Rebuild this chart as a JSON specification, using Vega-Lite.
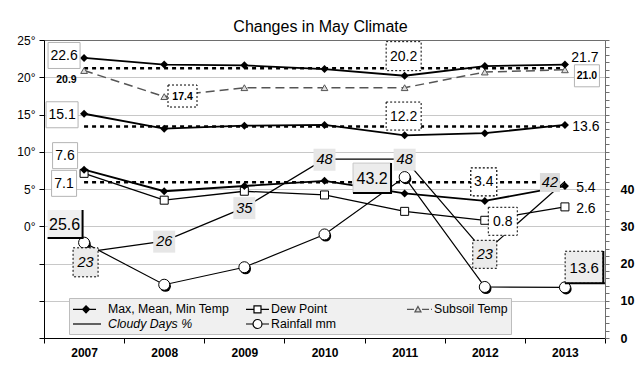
{
  "$schema": "https://vega.github.io/schema/vega-lite/v6.json",
  "width": 561,
  "height": 298,
  "autosize": {"type": "none"},
  "padding": {"left": 44, "top": 40, "right": 35, "bottom": 38},
  "background": "white",
  "title": {"text": "Changes in May Climate", "fontSize": 16, "fontWeight": "normal", "font": "Liberation Sans", "color": "black", "anchor": "middle", "offset": -14, "baseline": "alphabetic", "dx": -4},
  "config": {
    "font": "Liberation Sans",
    "view": {"stroke": "#6e6e6e", "strokeWidth": 1},
    "text": {"font": "Liberation Sans", "color": "black", "baseline": "middle", "align": "center"},
    "axis": {"labelFont": "Liberation Sans", "labelColor": "black", "title": null}
  },
  "datasets": {
    "temps": [
      {"year": "2007", "series": "Max", "value": 22.6},
      {"year": "2008", "series": "Max", "value": 21.7},
      {"year": "2009", "series": "Max", "value": 21.6},
      {"year": "2010", "series": "Max", "value": 21.1},
      {"year": "2011", "series": "Max", "value": 20.2},
      {"year": "2012", "series": "Max", "value": 21.5},
      {"year": "2013", "series": "Max", "value": 21.7},
      {"year": "2007", "series": "Mean", "value": 15.1},
      {"year": "2008", "series": "Mean", "value": 13.1},
      {"year": "2009", "series": "Mean", "value": 13.5},
      {"year": "2010", "series": "Mean", "value": 13.6},
      {"year": "2011", "series": "Mean", "value": 12.2},
      {"year": "2012", "series": "Mean", "value": 12.5},
      {"year": "2013", "series": "Mean", "value": 13.6},
      {"year": "2007", "series": "Min", "value": 7.6},
      {"year": "2008", "series": "Min", "value": 4.7},
      {"year": "2009", "series": "Min", "value": 5.4},
      {"year": "2010", "series": "Min", "value": 6.1},
      {"year": "2011", "series": "Min", "value": 4.4},
      {"year": "2012", "series": "Min", "value": 3.4},
      {"year": "2013", "series": "Min", "value": 5.4},
      {"year": "2007", "series": "Dew", "value": 7.1},
      {"year": "2008", "series": "Dew", "value": 3.5},
      {"year": "2009", "series": "Dew", "value": 4.7},
      {"year": "2010", "series": "Dew", "value": 4.2},
      {"year": "2011", "series": "Dew", "value": 2.0},
      {"year": "2012", "series": "Dew", "value": 0.8},
      {"year": "2013", "series": "Dew", "value": 2.6},
      {"year": "2007", "series": "Subsoil", "value": 20.9},
      {"year": "2008", "series": "Subsoil", "value": 17.4},
      {"year": "2009", "series": "Subsoil", "value": 18.6},
      {"year": "2010", "series": "Subsoil", "value": 18.6},
      {"year": "2011", "series": "Subsoil", "value": 18.6},
      {"year": "2012", "series": "Subsoil", "value": 20.7},
      {"year": "2013", "series": "Subsoil", "value": 21.0}
    ],
    "right": [
      {"year": "2007", "series": "Cloudy", "value": 23},
      {"year": "2008", "series": "Cloudy", "value": 26},
      {"year": "2009", "series": "Cloudy", "value": 35},
      {"year": "2010", "series": "Cloudy", "value": 48},
      {"year": "2011", "series": "Cloudy", "value": 48},
      {"year": "2012", "series": "Cloudy", "value": 23},
      {"year": "2013", "series": "Cloudy", "value": 42},
      {"year": "2007", "series": "Rain", "value": 25.6},
      {"year": "2008", "series": "Rain", "value": 14.3},
      {"year": "2009", "series": "Rain", "value": 19.0},
      {"year": "2010", "series": "Rain", "value": 27.8},
      {"year": "2011", "series": "Rain", "value": 43.2},
      {"year": "2012", "series": "Rain", "value": 13.7},
      {"year": "2013", "series": "Rain", "value": 13.6}
    ],
    "avgs": [
      {"year": "2007", "to": "2013", "series": "Max", "value": 21.2},
      {"year": "2007", "to": "2013", "series": "Mean", "value": 13.4},
      {"year": "2007", "to": "2013", "series": "Min", "value": 5.9}
    ]
  },
  "encoding": {
    "x": {
      "field": "year", "type": "ordinal",
      "scale": {"type": "band", "domain": ["2007", "2008", "2009", "2010", "2011", "2012", "2013"], "paddingInner": 0, "paddingOuter": 0},
      "axis": {"tickBand": "extent", "labelAngle": 0, "labelFontWeight": "bold", "labelFontSize": 12, "labelPadding": 4, "tickSize": 5, "tickColor": "black", "domainColor": "black", "grid": false, "title": null}
    }
  },
  "layer": [
    {
      "encoding": {
        "y": {"field": "value", "type": "quantitative", "scale": {"domain": [-15, 25], "nice": false, "zero": false},
          "axis": {"orient": "left", "title": null, "values": [-15, -10, -5, 0, 5, 10, 15, 20, 25], "labelExpr": "datum.value >= 0 ? datum.value + '°' : ''", "grid": true, "gridColor": "#c8c8c8", "gridOpacity": {"condition": {"test": "datum.value == -15 || datum.value == 25", "value": 0}, "value": 1}, "domainColor": "black", "tickColor": "black", "tickSize": 5, "labelPadding": 4, "labelFontSize": 12}}
      },
      "layer": [
        {"data": {"name": "avgs"}, "mark": {"type": "rule", "color": "black", "strokeWidth": 2.5, "strokeDash": [4, 4]}, "encoding": {"x2": {"field": "to"}}},
        {"data": {"name": "temps"}, "transform": [{"filter": "datum.series == 'Subsoil'"}], "mark": {"type": "line", "color": "#555555", "strokeWidth": 1.5, "strokeDash": [9, 5]}},
        {"data": {"name": "temps"}, "transform": [{"filter": "datum.series == 'Subsoil'"}], "mark": {"type": "point", "shape": "triangle-up", "size": 45, "filled": true, "fill": "#dddddd", "stroke": "#555555", "strokeWidth": 1, "opacity": 1}},
        {"data": {"name": "temps"}, "transform": [{"filter": "datum.series == 'Dew'"}], "mark": {"type": "line", "color": "black", "strokeWidth": 1.3}},
        {"data": {"name": "temps"}, "transform": [{"filter": "datum.series == 'Dew'"}], "mark": {"type": "point", "shape": "square", "size": 64, "filled": true, "fill": "white", "stroke": "black", "strokeWidth": 1, "opacity": 1}},
        {"data": {"name": "temps"}, "transform": [{"filter": "indexof(['Max','Mean','Min'], datum.series) >= 0"}], "mark": {"type": "line", "color": "black", "strokeWidth": 1.8}, "encoding": {"detail": {"field": "series"}}},
        {"data": {"name": "temps"}, "transform": [{"filter": "indexof(['Max','Mean','Min'], datum.series) >= 0"}], "mark": {"type": "point", "shape": "diamond", "size": 64, "filled": true, "color": "black", "opacity": 1}},
        {"data": {"name": "temps"}, "transform": [{"filter": "false"}], "mark": {"type": "point", "opacity": 1, "strokeWidth": 1.2},
          "encoding": {
            "shape": {"field": "series", "type": "nominal",
              "scale": {"domain": ["Max, Mean, Min Temp", "Dew Point", "Subsoil Temp", "Cloudy Days %", "Rainfall mm"],
                "range": ["M-1,0H2.29M0.36,0L0.86,-0.5L1.36,0L0.86,0.5Z", "M0.43,0H1.57M2.57,0H3.71M1.57,-0.5H2.57V0.5H1.57Z", "M0.14,0H1.14M2.29,0H3.29M3.57,0H3.71M1.28,0.36L1.71,-0.4L2.14,0.36Z", "M-1,0H3", "M0.43,0H1.43M2.71,0H3.71M1.43,0A0.64,0.64,0,1,0,2.71,0A0.64,0.64,0,1,0,1.43,0Z"]},
              "legend": {"title": null, "orient": "none", "legendX": 25, "legendY": 258, "direction": "horizontal", "columns": 3, "gridAlign": "all", "columnPadding": 6, "rowPadding": 0, "padding": 3, "fillColor": "#f0f0f0", "strokeColor": "#bdbdbd", "symbolSize": 196, "symbolStrokeWidth": 1.2, "symbolOpacity": 1, "labelOffset": 20, "labelFontSize": 12.3, "labelFont": "Liberation Sans", "labelColor": "black", "labelLimit": 300,
                "labelExpr": "datum.label == 'Subsoil Temp' ? 'Subsoil Temp\u00a0\u00a0\u00a0\u00a0\u00a0\u00a0\u00a0\u00a0\u00a0\u00a0\u00a0\u00a0' : datum.label",
                "labelFontStyle": {"expr": "datum.value == 'Cloudy Days %' ? 'italic' : 'normal'"}}},
            "fill": {"field": "series", "type": "nominal",
              "scale": {"domain": ["Max, Mean, Min Temp", "Dew Point", "Subsoil Temp", "Cloudy Days %", "Rainfall mm"],
                "range": ["black", "white", "#dddddd", "transparent", "white"]}},
            "stroke": {"field": "series", "type": "nominal",
              "scale": {"domain": ["Max, Mean, Min Temp", "Dew Point", "Subsoil Temp", "Cloudy Days %", "Rainfall mm"],
                "range": ["black", "black", "#555555", "black", "black"]}}
          }}
      ]
    },
    {
      "data": {"name": "right"},
      "encoding": {
        "y": {"field": "value", "type": "quantitative", "scale": {"domain": [0, 80], "nice": false, "zero": false},
          "axis": {"orient": "right", "title": null, "values": [0, 2, 4, 6, 8, 10, 12, 14, 16, 18, 20, 22, 24, 26, 28, 30, 32, 34, 36, 38, 40, 42, 44, 46, 48, 50, 52, 54, 56, 58, 60, 62, 64, 66, 68, 70, 72, 74, 76, 78, 80], "labelExpr": "datum.value % 10 == 0 && datum.value <= 40 ? datum.label : ''", "grid": false, "domainColor": "#6e6e6e", "tickColor": "#6e6e6e", "tickSize": 4, "labelPadding": 11, "labelFontSize": 12.5, "labelFontWeight": "bold"}}
      },
      "layer": [
        {"transform": [{"filter": "datum.series == 'Cloudy'"}], "mark": {"type": "line", "color": "black", "strokeWidth": 1.2}},
        {"transform": [{"filter": "datum.series == 'Rain'"}], "mark": {"type": "line", "color": "black", "strokeWidth": 1.2}},
        {"transform": [{"filter": "datum.series == 'Rain'"}], "mark": {"type": "point", "shape": "circle", "size": 121, "filled": true, "fill": "black", "opacity": 1, "xOffset": 1.2, "yOffset": 1.6}},
        {"transform": [{"filter": "datum.series == 'Rain'"}], "mark": {"type": "point", "shape": "circle", "size": 121, "filled": true, "fill": "white", "stroke": "black", "strokeWidth": 1, "opacity": 1}}
      ]
    },
    {
      "data": {"name": "temps"},
      "encoding": {"y": {"field": "value", "type": "quantitative", "scale": {"domain": [-15, 25], "nice": false, "zero": false}, "axis": null}},
      "layer": [
        {"transform": [{"filter": "datum.series == 'Max' && datum.year == '2007'"}], "layer": [
          {"mark": {"type": "point", "shape": "M-16,-13H16V13H-16Z", "size": 4, "filled": true, "fill": "white", "stroke": "#b4b4b4", "strokeWidth": 1, "opacity": 1, "xOffset": -20, "yOffset": -2.4}},
          {"mark": {"type": "text", "fontSize": 14, "dx": -20, "dy": -1.9}, "encoding": {"text": {"field": "value", "type": "quantitative", "format": ".1f"}}}
        ]},
        {"transform": [{"filter": "datum.series == 'Max' && datum.year == '2011'"}], "layer": [
          {"mark": {"type": "point", "shape": "M-17.5,-14.5H17.5V14.5H-17.5Z", "size": 4, "filled": true, "fill": "white", "stroke": "black", "strokeDash": [2, 2], "strokeWidth": 1, "opacity": 1, "xOffset": -1, "yOffset": -19.6}},
          {"mark": {"type": "text", "fontSize": 14, "dx": -1, "dy": -19}, "encoding": {"text": {"field": "value", "type": "quantitative", "format": ".1f"}}}
        ]},
        {"transform": [{"filter": "datum.series == 'Max' && datum.year == '2013'"}], "mark": {"type": "text", "fontSize": 14, "dx": 20, "dy": -7}, "encoding": {"text": {"field": "value", "type": "quantitative", "format": ".1f"}}},
        {"transform": [{"filter": "datum.year == '2013' && indexof(['Mean','Min','Dew'], datum.series) >= 0"}], "mark": {"type": "text", "fontSize": 14, "dx": 21, "dy": 2}, "encoding": {"text": {"field": "value", "type": "quantitative", "format": ".1f"}}},
        {"transform": [{"filter": "datum.series == 'Subsoil' && datum.year == '2007'"}], "mark": {"type": "text", "fontSize": 10.5, "fontWeight": "bold", "dx": -17.6, "dy": 9.5}, "encoding": {"text": {"field": "value", "type": "quantitative", "format": ".1f"}}},
        {"transform": [{"filter": "datum.series == 'Subsoil' && datum.year == '2008'"}], "layer": [
          {"mark": {"type": "point", "shape": "M-14.5,-11H14.5V11H-14.5Z", "size": 4, "filled": true, "fill": "white", "stroke": "black", "strokeDash": [2, 2], "strokeWidth": 1, "opacity": 1, "xOffset": 18.3, "yOffset": -0.6}},
          {"mark": {"type": "text", "fontSize": 10.5, "fontWeight": "bold", "dx": 18.3, "dy": 0}, "encoding": {"text": {"field": "value", "type": "quantitative", "format": ".1f"}}}
        ]},
        {"transform": [{"filter": "datum.series == 'Subsoil' && datum.year == '2013'"}], "layer": [
          {"mark": {"type": "point", "shape": "M-12.5,-11H12.5V11H-12.5Z", "size": 4, "filled": true, "fill": "white", "stroke": "#b4b4b4", "strokeWidth": 1, "opacity": 1, "xOffset": 22, "yOffset": 6}},
          {"mark": {"type": "text", "fontSize": 10.5, "fontWeight": "bold", "dx": 22, "dy": 6.5}, "encoding": {"text": {"field": "value", "type": "quantitative", "format": ".1f"}}}
        ]},
        {"transform": [{"filter": "datum.series == 'Mean' && datum.year == '2007'"}], "layer": [
          {"mark": {"type": "point", "shape": "M-16,-13H16V13H-16Z", "size": 4, "filled": true, "fill": "white", "stroke": "#b4b4b4", "strokeWidth": 1, "opacity": 1, "xOffset": -22, "yOffset": 1}},
          {"mark": {"type": "text", "fontSize": 14, "dx": -22, "dy": 1.5}, "encoding": {"text": {"field": "value", "type": "quantitative", "format": ".1f"}}}
        ]},
        {"transform": [{"filter": "datum.series == 'Mean' && datum.year == '2011'"}], "layer": [
          {"mark": {"type": "point", "shape": "M-17.5,-14H17.5V14H-17.5Z", "size": 4, "filled": true, "fill": "white", "stroke": "black", "strokeDash": [2, 2], "strokeWidth": 1, "opacity": 1, "xOffset": -1, "yOffset": -19.3}},
          {"mark": {"type": "text", "fontSize": 14, "dx": -1, "dy": -18.8}, "encoding": {"text": {"field": "value", "type": "quantitative", "format": ".1f"}}}
        ]},
        {"transform": [{"filter": "datum.series == 'Min' && datum.year == '2007'"}], "layer": [
          {"mark": {"type": "point", "shape": "M-12.5,-13H12.5V13H-12.5Z", "size": 4, "filled": true, "fill": "white", "stroke": "#b4b4b4", "strokeWidth": 1, "opacity": 1, "xOffset": -19, "yOffset": -14}},
          {"mark": {"type": "text", "fontSize": 14, "dx": -19, "dy": -13.5}, "encoding": {"text": {"field": "value", "type": "quantitative", "format": ".1f"}}}
        ]},
        {"transform": [{"filter": "datum.series == 'Min' && datum.year == '2012'"}], "layer": [
          {"mark": {"type": "point", "shape": "M-13,-14H13V14H-13Z", "size": 4, "filled": true, "fill": "white", "stroke": "black", "strokeDash": [2, 2], "strokeWidth": 1.2, "opacity": 1, "xOffset": -1, "yOffset": -19}},
          {"mark": {"type": "text", "fontSize": 14, "dx": -1, "dy": -18.5}, "encoding": {"text": {"field": "value", "type": "quantitative", "format": ".1f"}}}
        ]},
        {"transform": [{"filter": "datum.series == 'Dew' && datum.year == '2007'"}], "layer": [
          {"mark": {"type": "point", "shape": "M-12.5,-13H12.5V13H-12.5Z", "size": 4, "filled": true, "fill": "white", "stroke": "#b4b4b4", "strokeWidth": 1, "opacity": 1, "xOffset": -20, "yOffset": 10}},
          {"mark": {"type": "text", "fontSize": 14, "dx": -20, "dy": 10.5}, "encoding": {"text": {"field": "value", "type": "quantitative", "format": ".1f"}}}
        ]},
        {"transform": [{"filter": "datum.series == 'Dew' && datum.year == '2012'"}], "layer": [
          {"mark": {"type": "point", "shape": "M-14.5,-14H14.5V14H-14.5Z", "size": 4, "filled": true, "fill": "white", "stroke": "black", "strokeDash": [2, 2], "strokeWidth": 1, "opacity": 1, "xOffset": 18, "yOffset": 1}},
          {"mark": {"type": "text", "fontSize": 14, "dx": 18, "dy": 1.5}, "encoding": {"text": {"field": "value", "type": "quantitative", "format": ".1f"}}}
        ]}
      ]
    },
    {
      "data": {"name": "right"},
      "encoding": {"y": {"field": "value", "type": "quantitative", "scale": {"domain": [0, 80], "nice": false, "zero": false}, "axis": null}},
      "layer": [
        {"transform": [{"filter": "datum.series == 'Cloudy' && datum.year == '2007'"}], "layer": [
          {"mark": {"type": "point", "shape": "M-12.5,-14.5H12.5V14.5H-12.5Z", "size": 4, "filled": true, "fill": "#ebebeb", "stroke": "black", "strokeDash": [2, 2], "strokeWidth": 1, "opacity": 1, "xOffset": 1.5, "yOffset": 10}},
          {"mark": {"type": "text", "fontSize": 14.5, "fontStyle": "italic", "dx": 1.5, "dy": 10.5}, "encoding": {"text": {"field": "value", "type": "quantitative", "format": "d"}}}
        ]},
        {"transform": [{"filter": "datum.series == 'Cloudy' && indexof(['2008','2009','2010','2011'], datum.year) >= 0"}], "layer": [
          {"mark": {"type": "point", "shape": "M-11,-11H11V11H-11Z", "size": 4, "filled": true, "fill": "#e6e6e6", "opacity": 1, "yOffset": 0.5}},
          {"mark": {"type": "text", "fontSize": 14.5, "fontStyle": "italic", "dy": 1}, "encoding": {"text": {"field": "value", "type": "quantitative", "format": "d"}}}
        ]},
        {"transform": [{"filter": "datum.series == 'Cloudy' && datum.year == '2012'"}], "layer": [
          {"mark": {"type": "point", "shape": "M-12,-14H12V14H-12Z", "size": 4, "filled": true, "fill": "#ebebeb", "stroke": "black", "strokeDash": [2, 2], "strokeWidth": 1, "opacity": 1, "yOffset": 2}},
          {"mark": {"type": "text", "fontSize": 14.5, "fontStyle": "italic", "dy": 2.5}, "encoding": {"text": {"field": "value", "type": "quantitative", "format": "d"}}}
        ]},
        {"transform": [{"filter": "datum.series == 'Cloudy' && datum.year == '2013'"}], "layer": [
          {"mark": {"type": "point", "shape": "M-10,-9.5H10V9.5H-10Z", "size": 4, "filled": true, "fill": "#dcdcdc", "opacity": 1, "xOffset": -15, "yOffset": 1}},
          {"mark": {"type": "text", "fontSize": 14.5, "fontStyle": "italic", "dx": -15, "dy": 1.5}, "encoding": {"text": {"field": "value", "type": "quantitative", "format": "d"}}}
        ]},
        {"transform": [{"filter": "datum.series == 'Rain' && datum.year == '2007'"}], "layer": [
          {"mark": {"type": "point", "shape": "M-17.5,-14H17.5V14H-17.5Z", "size": 4, "filled": true, "fill": "#f0f0f0", "opacity": 1, "xOffset": -19, "yOffset": -18.6}},
          {"mark": {"type": "point", "shape": "M-36.5,-4.6H-1.5V-32.6", "size": 4, "filled": false, "stroke": "black", "strokeWidth": 2, "opacity": 1}},
          {"mark": {"type": "text", "fontSize": 16, "dx": -19.5, "dy": -18}, "encoding": {"text": {"field": "value", "type": "quantitative", "format": ".1f"}}}
        ]},
        {"transform": [{"filter": "datum.series == 'Rain' && datum.year == '2011'"}], "layer": [
          {"mark": {"type": "point", "shape": "M-19,-15H19V15H-19Z", "size": 4, "filled": true, "fill": "#ececec", "stroke": "#c8c8c8", "strokeWidth": 1, "opacity": 1, "xOffset": -32.6, "yOffset": 1}},
          {"mark": {"type": "point", "shape": "M-51.6,16H-13.6V-14", "size": 4, "filled": false, "stroke": "black", "strokeWidth": 2, "opacity": 1}},
          {"mark": {"type": "text", "fontSize": 16, "dx": -32.6, "dy": 1.5}, "encoding": {"text": {"field": "value", "type": "quantitative", "format": ".1f"}}}
        ]},
        {"transform": [{"filter": "datum.series == 'Rain' && datum.year == '2013'"}], "layer": [
          {"mark": {"type": "point", "shape": "M-19,-16H19V16H-19Z", "size": 4, "filled": true, "fill": "#ededed", "stroke": "black", "strokeDash": [2, 2], "strokeWidth": 1, "opacity": 1, "xOffset": 19.2, "yOffset": -20.1}},
          {"mark": {"type": "point", "shape": "M0,-4H40M38.4,-4V-36.3", "size": 4, "filled": false, "stroke": "black", "strokeWidth": 2, "opacity": 1}},
          {"mark": {"type": "text", "fontSize": 15, "dx": 19.2, "dy": -19.5}, "encoding": {"text": {"field": "value", "type": "quantitative", "format": ".1f"}}}
        ]}
      ]
    }
  ],
  "resolve": {"scale": {"y": "independent"}, "axis": {"y": "independent"}}
}
